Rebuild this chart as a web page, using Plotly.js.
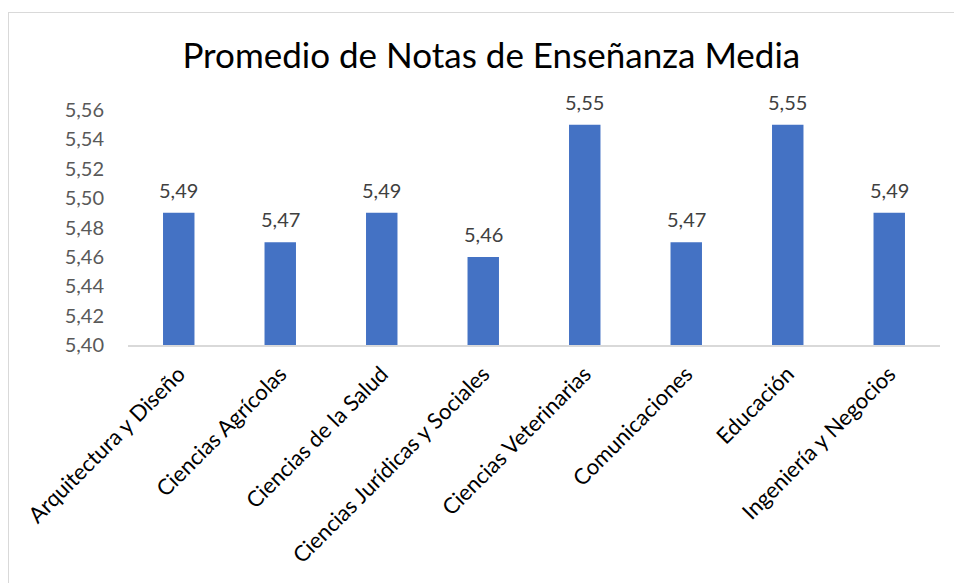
<!DOCTYPE html>
<html>
<head>
<meta charset="utf-8">
<script src="https://cdn.plot.ly/plotly-3.0.1.min.js"></script>
<style>
html,body{margin:0;padding:0;background:#fff;}
#wrap{position:relative;width:954px;height:583px;}
#chart{width:954px;height:583px;}
#frame{position:absolute;left:8px;top:12px;width:960px;height:600px;border-left:1.5px solid #d9d9d9;border-top:1.5px solid #d9d9d9;pointer-events:none;}
</style>
</head>
<body>
<div id="wrap"><div id="chart"></div><div id="frame"></div></div>
<script>
const categories = ["Arquitectura y Diseño","Ciencias Agrícolas","Ciencias de la Salud","Ciencias Jurídicas y Sociales","Ciencias Veterinarias","Comunicaciones","Educación","Ingeniería y Negocios"];
const values = [5.49, 5.47, 5.49, 5.46, 5.55, 5.47, 5.55, 5.49];
const yTicks = [5.40, 5.42, 5.44, 5.46, 5.48, 5.50, 5.52, 5.54, 5.56];
const yBase = 5.40;
const chartTitle = "Promedio de Notas de Enseñanza Media";

const fmt = v => v.toFixed(2).replace('.', ',');

const trace = {
  type: 'bar',
  x: categories,
  y: values.map(v => v - yBase),
  base: yBase,
  marker: {color: '#4472C4', line: {width: 0}},
  width: 0.31,
  hoverinfo: 'skip'
};

const annotations = categories.map((c, i) => ({
  x: c, y: values[i], xref: 'x', yref: 'y',
  text: fmt(values[i]), showarrow: false,
  yanchor: 'bottom', yshift: 9,
  font: {family: 'Lato, sans-serif', size: 20, color: '#404040'}
}));

const layout = {
  width: 954, height: 583,
  margin: {l: 128, r: 14, t: 110, b: 238},
  paper_bgcolor: '#fff', plot_bgcolor: '#fff',
  showlegend: false,
  separators: ',.',
  title: {text: chartTitle, x: 0.515, xanchor: 'center', y: 0.905, yanchor: 'middle',
          font: {family: 'Lato, sans-serif', size: 35, color: '#000'}},
  xaxis: {
    type: 'category',
    tickangle: -45,
    showgrid: false, zeroline: false,
    showline: true, linecolor: '#d9d9d9', linewidth: 1.5,
    ticks: '', ticklabelstandoff: 6,
    tickfont: {family: 'Lato, sans-serif', size: 22, color: '#000'},
    range: [-0.5, 7.5]
  },
  yaxis: {
    range: [5.40, 5.56],
    tickvals: yTicks,
    ticktext: yTicks.map(fmt),
    showgrid: false, zeroline: false, showline: false,
    ticks: 'outside', ticklen: 19, tickcolor: 'rgba(0,0,0,0)',
    tickfont: {family: 'Lato, sans-serif', size: 20, color: '#595959'}
  },
  annotations: annotations
};

Plotly.newPlot('chart', [trace], layout, {displayModeBar: false, staticPlot: true});
</script>
</body>
</html>
